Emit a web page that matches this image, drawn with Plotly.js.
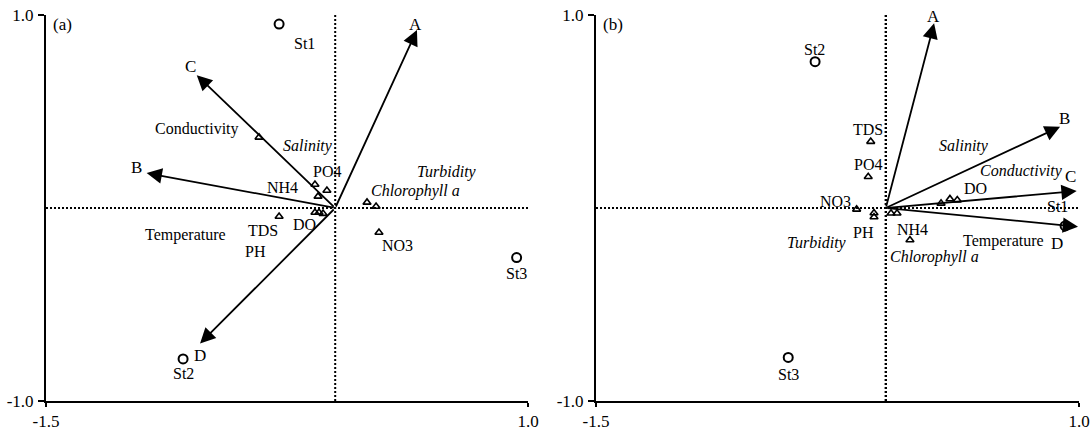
<!DOCTYPE html>
<html><head><meta charset="utf-8">
<script src="https://cdn.plot.ly/plotly-3.0.1.min.js"></script>
<style>html,body{margin:0;padding:0;background:#fff}#chart{width:1092px;height:434px}</style>
</head><body><div id="chart"></div>
<script>
// ---------- Panel (a) ----------
const aArrowNames = ['A', 'B', 'C', 'D'];
const aArrowX = [0.424, -0.978, -0.718, -0.701];
const aArrowY = [0.922, 0.181, 0.688, -0.702];
const aSiteNames = ['St1', 'St2', 'St3'];
const aSiteX = [-0.291, -0.789, 0.941];
const aSiteY = [0.953, -0.782, -0.257];
const aEnvNames = ['Conductivity', 'Salinity', 'PO4', 'NH4', 'DO', 'TDS', 'PH', 'Temperature', 'Chlorophyll a', 'Turbidity', 'NO3'];
const aEnvX = [-0.395, -0.105, -0.043, -0.089, -0.063, -0.291, -0.105, -0.084, 0.165, 0.212, 0.227];
const aEnvY = [0.366, 0.122, 0.091, 0.060, -0.029, -0.044, -0.023, -0.023, 0.029, 0.008, -0.127];
const aItalic = ['Salinity', 'Turbidity', 'Chlorophyll a'];

// ---------- Panel (b) ----------
const bArrowNames = ['A', 'B', 'C', 'D'];
const bArrowX = [0.250, 0.902, 0.988, 0.995];
const bArrowY = [0.957, 0.421, 0.088, -0.097];
const bSiteNames = ['St1', 'St2', 'St3'];
const bSiteX = [0.928, -0.366, -0.505];
const bSiteY = [-0.093, 0.758, -0.774];
const bEnvNames = ['TDS', 'PO4', 'NO3', 'Turbidity', 'PH', 'NH4', 'Temperature', 'Chlorophyll a', 'DO', 'Salinity', 'Conductivity'];
const bEnvX = [-0.078, -0.091, -0.151, -0.061, -0.061, 0.027, 0.058, 0.125, 0.286, 0.332, 0.370];
const bEnvY = [0.344, 0.162, -0.007, -0.026, -0.047, -0.027, -0.027, -0.166, 0.024, 0.047, 0.041];
const bItalic = ['Salinity', 'Turbidity', 'Chlorophyll a', 'Conductivity'];

// ---------- Axes ticks ----------
const xTickVals = [-1.5, 1.0];
const xTickText = ['-1.5', '1.0'];
const yTickVals = [-1.0, 1.0];
const yTickText = ['-1.0', '1.0'];
const panelNames = ['(a)', '(b)'];

// ---------- Label offsets (screen px: dx right, dy down) ----------
const offA = {
  arrows: {A: [-1, -6], B: [-10, -6], C: [-6, -9], D: [0, 12]},
  sites: {St1: [25, 19], St2: [0, 15], St3: [0, 16]},
  env: {'Conductivity': [-62, -8], 'Salinity': [-7, -38], 'PO4': [0, -19], 'NH4': [-36, -9], 'DO': [-19, 11],
        'TDS': [-16, 14], 'PH': [-59, 39], 'Temperature': [-134, 23], 'Chlorophyll a': [48, -11],
        'Turbidity': [71, -34], 'NO3': [19, 13]}
};
const offB = {
  arrows: {A: [-1, -7], B: [4, -8], C: [-6, -15], D: [-21, 17]},
  sites: {St1: [-8, -19], St2: [-1, -12], St3: [0, 17]},
  env: {'TDS': [-3, -12], 'PO4': [0, -12], 'NO3': [-21, -8], 'Turbidity': [-57, 30], 'PH': [-11, 15],
        'NH4': [21, 16], 'Temperature': [106, 28], 'Chlorophyll a': [25, 17], 'DO': [34, -15],
        'Salinity': [14, -53], 'Conductivity': [64, -29]}
};

const FONT = '"Liberation Serif", "Times New Roman", Times, serif';
const traces = [];
const annotations = [];
const shapes = [];

function panel(idx, P) {
  const xr = idx === 0 ? 'x' : 'x2';
  const yr = idx === 0 ? 'y' : 'y2';
  traces.push({x: P.envX, y: P.envY, xaxis: xr, yaxis: yr, mode: 'markers', type: 'scatter',
    marker: {symbol: 'triangle-up-open', size: 7, color: '#000', line: {width: 1.6, color: '#000'}},
    hoverinfo: 'skip', cliponaxis: false});
  traces.push({x: P.siteX, y: P.siteY, xaxis: xr, yaxis: yr, mode: 'markers', type: 'scatter',
    marker: {symbol: 'circle-open', size: 9, color: '#000', line: {width: 2, color: '#000'}},
    hoverinfo: 'skip', cliponaxis: false});
  const dw = idx === 0 ? 2 : 2.4;
  shapes.push({type: 'line', xref: xr, yref: yr, x0: 0, x1: 0, y0: -1, y1: 1, layer: 'below',
    line: {color: '#000', width: dw, dash: '2px,2px'}});
  shapes.push({type: 'line', xref: xr, yref: yr, x0: -1.5, x1: 1, y0: 0, y1: 0, layer: 'below',
    line: {color: '#000', width: 2, dash: '2px,2px'}});
  P.arrowX.forEach((x, i) => {
    annotations.push({xref: xr, yref: yr, axref: xr, ayref: yr, x: x, y: P.arrowY[i], ax: 0, ay: 0,
      text: '', showarrow: true, arrowhead: 2, arrowsize: 1.7, arrowwidth: 1.8, arrowcolor: '#000',
      standoff: 0, startstandoff: 0});
    const o = P.off.arrows[P.arrowNames[i]];
    annotations.push({xref: xr, yref: yr, x: x, y: P.arrowY[i], text: P.arrowNames[i], showarrow: false,
      xanchor: 'center', yanchor: 'middle', xshift: o[0], yshift: -o[1],
      font: {family: FONT, size: 17, color: '#000'}});
  });
  P.siteX.forEach((x, i) => {
    const o = P.off.sites[P.siteNames[i]];
    annotations.push({xref: xr, yref: yr, x: x, y: P.siteY[i], text: P.siteNames[i], showarrow: false,
      xanchor: 'center', yanchor: 'middle', xshift: o[0], yshift: -o[1],
      font: {family: FONT, size: 16, color: '#000'}});
  });
  P.envX.forEach((x, i) => {
    const n = P.envNames[i];
    const o = P.off.env[n];
    const t = P.italic.indexOf(n) >= 0 ? '<i>' + n + '</i>' : n;
    annotations.push({xref: xr, yref: yr, x: x, y: P.envY[i], text: t, showarrow: false,
      xanchor: 'center', yanchor: 'middle', xshift: o[0], yshift: -o[1],
      font: {family: FONT, size: 16, color: '#000'}});
  });
  annotations.push({xref: xr + ' domain', yref: yr + ' domain', x: 0, y: 1, text: panelNames[idx],
    showarrow: false, xanchor: 'left', yanchor: 'middle', xshift: 5, yshift: -9,
    font: {family: FONT, size: 17, color: '#000'}});
}

panel(0, {arrowNames: aArrowNames, arrowX: aArrowX, arrowY: aArrowY, siteNames: aSiteNames, siteX: aSiteX, siteY: aSiteY,
  envNames: aEnvNames, envX: aEnvX, envY: aEnvY, italic: aItalic, off: offA});
panel(1, {arrowNames: bArrowNames, arrowX: bArrowX, arrowY: bArrowY, siteNames: bSiteNames, siteX: bSiteX, siteY: bSiteY,
  envNames: bEnvNames, envX: bEnvX, envY: bEnvY, italic: bItalic, off: offB});

function xAxis(dom, anchor) {
  return {domain: dom, anchor: anchor, range: [-1.5, 1.0], tickvals: xTickVals, ticktext: xTickText,
    showgrid: false, zeroline: false, showline: true, linecolor: '#000', linewidth: 2,
    ticks: 'outside', ticklen: 4, tickwidth: 2, tickcolor: '#000', ticklabelstandoff: 0,
    tickfont: {family: FONT, size: 17, color: '#000'}, automargin: false, fixedrange: true};
}
function yAxis(anchor) {
  return {domain: [1 - 401 / 434, 1 - 15 / 434], anchor: anchor, range: [-1.0, 1.0], tickvals: yTickVals, ticktext: yTickText,
    showgrid: false, zeroline: false, showline: true, linecolor: '#000', linewidth: 2,
    ticks: 'outside', ticklen: 6, tickwidth: 2, tickcolor: '#000', ticklabelstandoff: 1,
    tickfont: {family: FONT, size: 17, color: '#000'}, automargin: false, fixedrange: true};
}

const layout = {
  width: 1092, height: 434, margin: {l: 0, r: 0, t: 0, b: 0},
  paper_bgcolor: '#fff', plot_bgcolor: '#fff', showlegend: false,
  xaxis: xAxis([46 / 1092, 528 / 1092], 'y'),
  yaxis: yAxis('x'),
  xaxis2: xAxis([596 / 1092, 1079 / 1092], 'y2'),
  yaxis2: yAxis('x2'),
  shapes: shapes, annotations: annotations,
  font: {family: FONT, color: '#000'}
};

Plotly.newPlot('chart', traces, layout, {displayModeBar: false, staticPlot: true});
</script>
</body></html>
